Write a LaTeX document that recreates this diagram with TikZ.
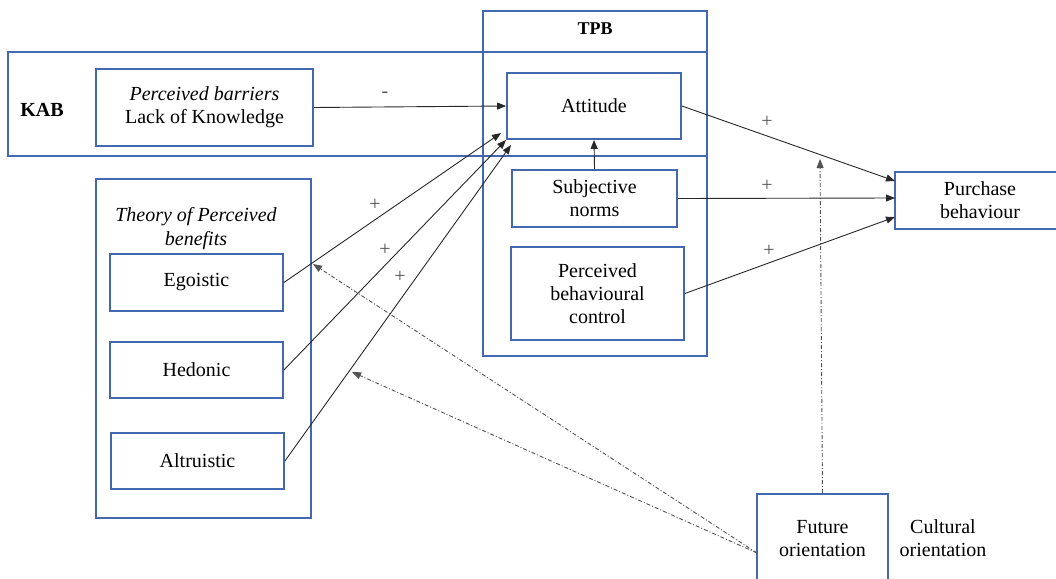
\documentclass[tikz,border=0pt]{standalone}
\usepackage{fontspec}
\setmainfont{Liberation Serif}
\newfontfamily\diagfont{Liberation Serif}
\usetikzlibrary{arrows.meta,calc}
\definecolor{boxblue}{RGB}{68,104,176}
\definecolor{linegray}{RGB}{40,40,40}
\begin{document}
\begin{tikzpicture}[x=1pt,y=-1pt,
  font=\diagfont\fontsize{20}{23}\selectfont,
  frame/.style={draw=boxblue,line width=1.8pt,inner sep=0pt},
  boxnode/.style={draw=boxblue,line width=1.8pt,align=center,inner sep=0pt},
  conn/.style={draw=linegray,line width=0.9pt,-{Triangle[length=9pt,width=7pt]}},
  dotconn/.style={draw=linegray!80,line width=0.9pt,dash pattern=on 4pt off 2pt on 1pt off 2pt,-{Triangle[length=9pt,width=7pt]}},
  sign/.style={font=\diagfont\fontsize{20}{22}\selectfont,text=linegray!80}]
\useasboundingbox (0,0) rectangle (1056,578);
\clip (0,0) rectangle (1056,578);
% frames
\node[frame,minimum width=699pt,minimum height=104pt] (kab) at (357.5,104) {};
\node[frame,minimum width=224pt,minimum height=345pt] (tpb) at (595,183.5) {};
\node[frame,minimum width=215pt,minimum height=339pt] (theory) at (203.5,348.5) {};
% frame titles
\node[font=\diagfont\fontsize{18}{21}\selectfont\bfseries] (tpbt) at (595,29) {TPB};
\node[font=\diagfont\fontsize{20}{23}\selectfont\bfseries] (kabt) at (42,110) {KAB};
\node[align=center,font=\diagfont\fontsize{20}{24}\selectfont\itshape] (theoryt) at (196,229) {Theory of Perceived\\benefits};
% boxes
\node[boxnode,minimum width=217pt,minimum height=77pt] (barrier) at (204.5,107.5) {\textit{Perceived barriers}\\Lack of Knowledge};
\node[boxnode,minimum width=174pt,minimum height=66pt] (attitude) at (594,106) {Attitude};
\node[boxnode,minimum width=165pt,minimum height=57pt] (subj) at (594.5,198.5) {Subjective\\norms};
\node[boxnode,minimum width=173pt,minimum height=93pt] (pbc) at (597.5,293.5) {Perceived\\behavioural\\control};
\node[boxnode,minimum width=170pt,minimum height=57pt] (purchase) at (980,200.5) {Purchase\\behaviour};
\node[boxnode,minimum width=173pt,minimum height=57pt] (ego) at (196.5,282.5) {Egoistic};
\node[boxnode,minimum width=173pt,minimum height=56pt] (hed) at (196.5,370) {Hedonic};
\node[boxnode,minimum width=173pt,minimum height=56pt] (alt) at (197.5,461) {Altruistic};
\node[boxnode,minimum width=131pt,minimum height=90pt] (future) at (822.5,539) {Future\\orientation};
\node[align=center] (cultural) at (943,538) {Cultural\\orientation};
% target coordinates
\coordinate (a1) at (501,133);
\coordinate (a2) at (506,140);
\coordinate (a3) at (511,145);
\coordinate (p1) at (895,181);
\coordinate (p2) at (895,198);
\coordinate (p3) at (895,217);
\coordinate (onpath) at (820,159);
\coordinate (onego) at (313,264);
\coordinate (onalt) at (352,372);
\coordinate (fo) at (757,553);
% connectors
\draw[conn] (barrier.east) -- (attitude.west);
\draw[conn] (ego.east) -- (a1);
\draw[conn] (hed.east) -- (a2);
\draw[conn] (alt.east) -- (a3);
\draw[conn] (subj.north) -- (attitude.south);
\draw[conn] (attitude.east) -- (p1);
\draw[conn] (subj.east) -- (p2);
\draw[conn] (pbc.east) -- (p3);
\draw[dotconn] (future.north) -- (onpath);
\draw[dotconn] (fo) -- (onego);
\draw[dotconn] (fo) -- (onalt);
% signs
\node[sign] (s0) at (385,95) {-};
\node[sign] (s1) at (375,205) {+};
\node[sign] (s2) at (385,250) {+};
\node[sign] (s3) at (400,277) {+};
\node[sign] (s4) at (767,122) {+};
\node[sign] (s5) at (767,186) {+};
\node[sign] (s6) at (769,251) {+};
\end{tikzpicture}
\end{document}
